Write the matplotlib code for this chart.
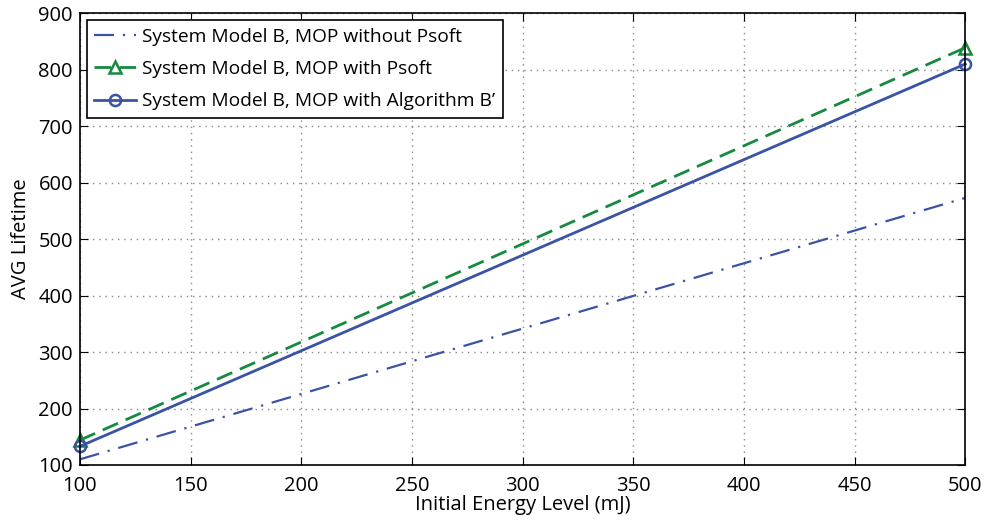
import matplotlib
matplotlib.use("Agg")
import matplotlib.pyplot as plt

plt.rcParams["font.family"] = ["Open Sans", "DejaVu Sans"]

energy = [100, 500]
lifetime_no_psoft = [110, 573]
lifetime_psoft = [144, 839]
lifetime_alg_b = [133, 810]

labels = [
    "System Model B, MOP without Psoft",
    "System Model B, MOP with Psoft",
    "System Model B, MOP with Algorithm B\u2019",
]

blue = "#3a53a4"
green = "#168a3e"

fig = plt.figure(figsize=(9.86, 5.29), dpi=100)
ax = fig.add_axes([0.081, 0.121, 0.898, 0.854])

ax.plot(energy, lifetime_no_psoft, linestyle=(0, (9, 4, 1, 4)), color=blue,
        linewidth=1.6, label=labels[0])
ax.plot(energy, lifetime_psoft, "--^", color=green, linewidth=2,
        markersize=8, markerfacecolor="none", markeredgewidth=1.8,
        dashes=(6, 3), label=labels[1], clip_on=False)
ax.plot(energy, lifetime_alg_b, "-o", color=blue, linewidth=2,
        markersize=8, markerfacecolor="none", markeredgewidth=1.8,
        label=labels[2], clip_on=False)

ax.set_xlim(100, 500)
ax.set_ylim(100, 900)
ax.set_xticks(range(100, 501, 50))
ax.set_yticks(range(100, 901, 100))
ax.tick_params(direction="in", top=True, right=True, labelsize=14.5, length=6)
ax.tick_params(axis="x", pad=8)
ax.tick_params(axis="y", pad=5)
ax.grid(True, color="#888888", linewidth=1, dashes=(1, 3.5))
for s in ax.spines.values():
    s.set_linewidth(1.2)

ax.set_xlabel("Initial Energy Level (mJ)", fontsize=14.5, labelpad=-1)
ax.set_ylabel("AVG Lifetime", fontsize=14.5, labelpad=5)

leg = ax.legend(loc="upper left", fontsize=13.8, fancybox=False,
                edgecolor="black", framealpha=1, borderaxespad=0.35,
                handlelength=2.2, labelspacing=0.75, borderpad=0.4,
                handletextpad=0.3)
leg.get_frame().set_linewidth(1.2)

fig.savefig("out.png", dpi=100)
